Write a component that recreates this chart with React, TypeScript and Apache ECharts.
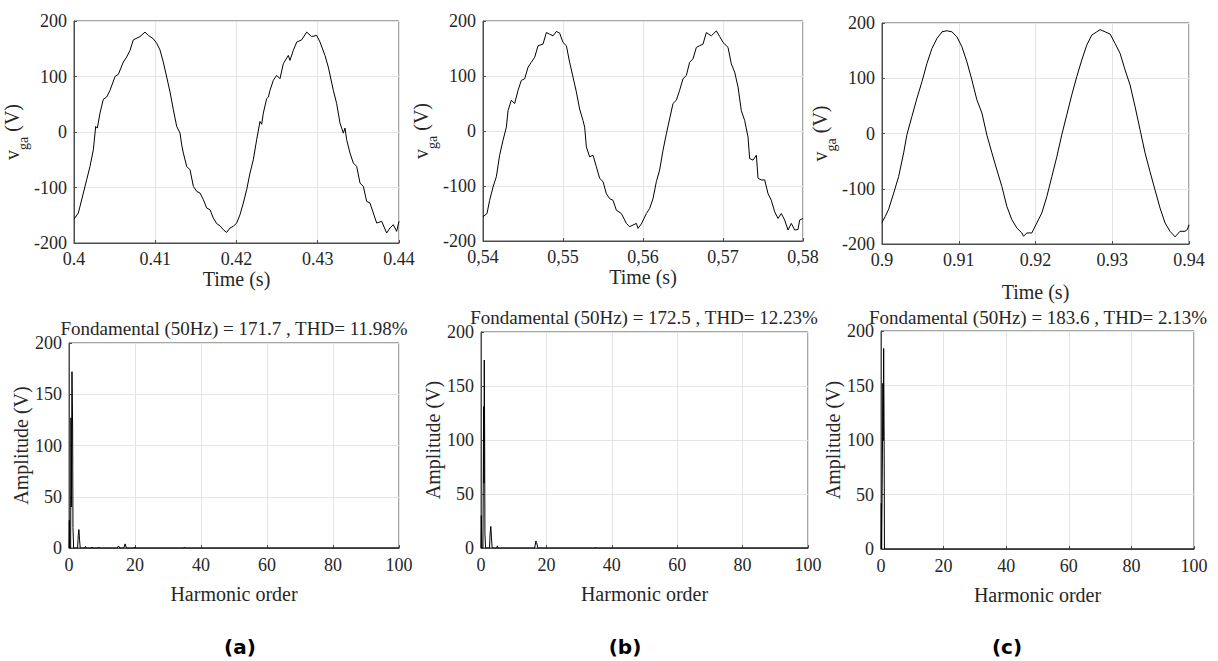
import React, { useEffect, useRef } from "react";
import * as echarts from "echarts";

// ---------- data: waveforms (time in s, voltage in V) ----------
const timeA = [0.4, 0.40053, 0.40074, 0.40115, 0.40156, 0.40197, 0.40238, 0.40267, 0.40287, 0.4032, 0.40361, 0.40402, 0.40443, 0.40505, 0.40546, 0.40607, 0.40648, 0.40689, 0.4073, 0.40812, 0.40874, 0.40915, 0.40976, 0.41017, 0.41058, 0.41099, 0.41141, 0.41182, 0.41223, 0.41264, 0.41305, 0.41325, 0.41346, 0.41387, 0.41428, 0.41469, 0.4151, 0.41551, 0.41592, 0.41633, 0.41674, 0.41715, 0.41756, 0.41797, 0.41838, 0.41879, 0.4192, 0.41961, 0.42002, 0.42043, 0.42084, 0.42125, 0.42166, 0.42207, 0.42248, 0.42289, 0.4231, 0.4233, 0.42371, 0.42392, 0.42412, 0.42453, 0.42494, 0.42535, 0.42576, 0.42638, 0.42658, 0.42699, 0.42741, 0.42802, 0.42864, 0.42925, 0.42987, 0.43028, 0.43089, 0.4313, 0.43192, 0.43233, 0.43274, 0.43315, 0.43335, 0.43356, 0.43397, 0.43438, 0.43479, 0.4352, 0.43561, 0.43602, 0.43643, 0.43684, 0.43725, 0.43787, 0.43848, 0.43889, 0.4393, 0.43971, 0.44];
const voltA = [-157, -146, -134, -110, -86, -62, -32, 10, 7, 34, 59, 63, 75, 100, 104, 126, 135, 147, 166, 172, 180, 174, 168, 160, 148, 126, 99, 72, 40, 10, -2, -23, -38, -62, -68, -98, -107, -110, -122, -137, -140, -155, -165, -169, -176, -181, -173, -170, -164, -149, -128, -104, -74, -50, -14, 19, 14, 34, 60, 63, 75, 93, 102, 96, 123, 138, 129, 147, 162, 166, 180, 172, 174, 162, 138, 117, 75, 51, 16, -2, 7, -14, -38, -56, -62, -92, -98, -125, -128, -146, -164, -161, -182, -173, -167, -179, -161];

const timeB = [0.54, 0.5405, 0.54083, 0.54125, 0.54167, 0.54208, 0.5425, 0.54292, 0.54313, 0.54354, 0.54396, 0.54438, 0.54479, 0.54521, 0.54563, 0.54604, 0.54646, 0.54688, 0.5475, 0.54792, 0.54833, 0.54875, 0.54917, 0.54958, 0.55, 0.55042, 0.55083, 0.55125, 0.55167, 0.55208, 0.5525, 0.55271, 0.55292, 0.55333, 0.55375, 0.55417, 0.55458, 0.555, 0.55542, 0.55583, 0.55625, 0.55667, 0.55729, 0.55792, 0.55833, 0.55875, 0.55917, 0.55938, 0.55979, 0.56042, 0.56083, 0.56125, 0.56167, 0.56208, 0.5625, 0.56292, 0.56333, 0.56375, 0.56417, 0.56458, 0.565, 0.56542, 0.56583, 0.56625, 0.56667, 0.56708, 0.5675, 0.56792, 0.56854, 0.56917, 0.56958, 0.57, 0.57063, 0.57104, 0.57146, 0.57188, 0.57229, 0.57271, 0.57313, 0.57333, 0.57375, 0.57417, 0.57438, 0.57479, 0.57521, 0.57563, 0.57604, 0.57646, 0.57688, 0.57729, 0.57771, 0.57813, 0.57854, 0.57896, 0.57938, 0.57958, 0.58];
const voltB = [-156, -150, -126, -102, -83, -44, -17, 7, 37, 56, 50, 74, 92, 95, 116, 125, 134, 155, 158, 179, 176, 173, 181, 178, 161, 155, 125, 98, 71, 40, 19, 7, -29, -47, -44, -65, -86, -92, -114, -123, -126, -144, -150, -168, -174, -171, -168, -177, -169, -150, -141, -123, -92, -71, -35, -5, 22, 50, 56, 74, 95, 101, 125, 131, 152, 155, 158, 179, 173, 182, 172, 161, 152, 122, 107, 80, 37, 19, -11, -50, -53, -44, -86, -89, -89, -114, -126, -147, -159, -150, -162, -180, -168, -180, -179, -162, -159];

const timeC = [0.9, 0.90043, 0.90087, 0.90152, 0.90217, 0.90282, 0.90325, 0.9039, 0.90456, 0.90521, 0.90586, 0.90651, 0.90716, 0.90781, 0.90846, 0.90911, 0.90976, 0.91041, 0.91106, 0.91171, 0.91236, 0.91302, 0.91367, 0.91432, 0.91497, 0.91562, 0.91627, 0.91692, 0.91757, 0.91822, 0.91844, 0.91887, 0.91952, 0.92017, 0.92082, 0.92148, 0.92213, 0.92278, 0.92343, 0.92408, 0.92473, 0.92538, 0.92603, 0.92668, 0.92733, 0.92798, 0.92842, 0.92907, 0.92972, 0.93037, 0.93102, 0.93167, 0.93232, 0.93297, 0.93362, 0.93427, 0.93492, 0.93557, 0.93623, 0.93688, 0.93753, 0.93818, 0.93883, 0.93948, 0.93978, 0.94];
const voltC = [-161, -150, -137, -108, -78, -35, -2, 31, 64, 94, 127, 154, 172, 184, 186, 184, 175, 157, 130, 97, 61, 37, -3, -35, -66, -96, -132, -156, -171, -180, -186, -180, -180, -162, -144, -114, -78, -42, -2, 34, 70, 103, 133, 160, 178, 184, 188, 184, 180, 163, 145, 115, 88, 49, 7, -35, -69, -102, -135, -162, -177, -187, -177, -177, -174, -165];

// ---------- data: harmonic spectra (order, amplitude V) ----------
const orderA = [0, 0.1, 0.2, 0.5, 0.6, 0.7, 0.9, 1.1, 1.2, 1.4, 2.6, 2.8, 3.0, 3.2, 3.4, 4.8, 5.0, 5.2, 6.8, 7.0, 7.2, 8.8, 9.0, 9.2, 14.6, 15.0, 15.4, 16.6, 17.0, 17.4, 19.8, 20.0, 20.2, 34.8, 35.0, 35.2, 100];
const ampA = [0, 27, 0, 0, 127, 40, 172, 118, 20, 0, 0, 12, 18, 8, 0, 0, 1.5, 0, 0, 1, 0, 0, 1, 0, 0, 2, 0, 0, 4, 0, 0, 1, 0, 0, 1, 0, 0];

const orderB = [0, 0.1, 0.2, 0.3, 0.6, 0.8, 0.9, 1.0, 1.1, 1.2, 1.4, 2.6, 2.8, 3.0, 3.2, 3.4, 4.8, 5.0, 5.2, 16.4, 16.8, 17.0, 17.4, 34.8, 35.0, 35.2, 100];
const ampB = [0, 30, 12, 0, 0, 131, 60, 174, 114, 13, 0, 0, 14, 20, 10, 0, 0, 2, 0, 0, 6.5, 5, 0, 0, 0.8, 0, 0];

const orderC = [0, 0.1, 0.2, 0.4, 0.5, 0.6, 0.7, 0.85, 1.0, 1.1, 100];
const ampC = [0, 42, 0, 0, 103, 152, 100, 184, 103, 0, 0];

// ---------- text ----------
const titles = [
  "Fondamental (50Hz) = 171.7 , THD= 11.98%",
  "Fondamental (50Hz) = 172.5 , THD= 12.23%",
  "Fondamental (50Hz) = 183.6 , THD= 2.13%",
];
const panelLabels = ["(a)", "(b)", "(c)"];
const timeRanges = [
  [0.4, 0.44],
  [0.54, 0.58],
  [0.9, 0.94],
];

const SERIF = '"Liberation Serif", "Times New Roman", serif';
const TXT = "#262626";
const AXIS = "#4d4d4d";
const GRIDC = "#e4e4e4";

export default function App() {
  const ref = useRef<HTMLDivElement>(null);

  useEffect(() => {
    if (!ref.current) return;
    const chart = echarts.init(ref.current, undefined, { renderer: "svg" });

    const grids = [
      { left: 74, top: 21, width: 325, height: 222 },
      { left: 483, top: 21, width: 320, height: 220 },
      { left: 882, top: 23, width: 307, height: 221 },
      { left: 69, top: 343, width: 330, height: 205 },
      { left: 481, top: 332, width: 327, height: 216 },
      { left: 881, top: 331, width: 313, height: 218 },
    ].map((g) => ({ ...g, show: true, borderColor: AXIS, borderWidth: 1, containLabel: false }));

    const labelStyle = {
      fontFamily: SERIF,
      fontSize: 18,
      color: TXT,
      showMinLabel: true,
      showMaxLabel: true,
    };

    const axisCommon = {
      type: "value" as const,
      axisLine: { show: true, onZero: false, lineStyle: { color: AXIS, width: 1 } },
      axisTick: { show: true, inside: true, length: 3, lineStyle: { color: AXIS } },
      splitLine: { show: true, lineStyle: { color: GRIDC, width: 1 } },
      nameTextStyle: { fontFamily: SERIF, fontSize: 20, color: TXT },
      nameLocation: "middle" as const,
    };

    const timeGaps = [17, 26, 38];
    const vgaGaps = [32, 46, 46];

    const xAxes: any[] = [];
    const yAxes: any[] = [];
    for (let i = 0; i < 3; i++) {
      const comma = i === 1;
      xAxes.push({
        ...axisCommon,
        gridIndex: i,
        min: timeRanges[i][0],
        max: timeRanges[i][1],
        interval: 0.01,
        name: "Time (s)",
        nameGap: timeGaps[i],
        axisLabel: {
          ...labelStyle,
          margin: 7,
          formatter: (v: number) => {
            const s = String(parseFloat(v.toFixed(2)));
            return comma ? s.replace(".", ",") : s;
          },
        },
      });
      yAxes.push({
        ...axisCommon,
        gridIndex: i,
        min: -200,
        max: 200,
        interval: 100,
        name: "{v|v}{s|ga}{v| (V)}",
        nameGap: vgaGaps[i],
        nameRotate: 90,
        nameTextStyle: {
          fontFamily: SERIF,
          fontSize: 20,
          color: TXT,
          rich: {
            v: { fontFamily: SERIF, fontSize: 20, color: TXT, lineHeight: 22, verticalAlign: "top" },
            s: { fontFamily: SERIF, fontSize: 14, color: TXT, lineHeight: 14, verticalAlign: "top", padding: [14, 0, 0, 0] },
          },
        },
        axisLabel: { ...labelStyle, margin: 7 },
      });
    }
    const ampGaps = [37, 38, 38];
    for (let i = 0; i < 3; i++) {
      xAxes.push({
        ...axisCommon,
        gridIndex: 3 + i,
        min: 0,
        max: 100,
        interval: 20,
        name: "Harmonic order",
        nameGap: 36,
        axisLabel: { ...labelStyle, margin: 8 },
      });
      yAxes.push({
        ...axisCommon,
        gridIndex: 3 + i,
        min: 0,
        max: 200,
        interval: 50,
        name: "Amplitude (V)",
        nameGap: ampGaps[i],
        nameRotate: 90,
        axisLabel: { ...labelStyle, margin: 7 },
      });
    }

    const waves = [
      [timeA, voltA],
      [timeB, voltB],
      [timeC, voltC],
    ];
    const spectra = [
      [orderA, ampA],
      [orderB, ampB],
      [orderC, ampC],
    ];
    const series: any[] = [];
    waves.forEach(([t, v], i) => {
      series.push({
        type: "line",
        xAxisIndex: i,
        yAxisIndex: i,
        showSymbol: false,
        symbol: "none",
        lineStyle: { color: "#000", width: 1 },
        data: t.map((x, k) => [x, v[k]]),
      });
    });
    spectra.forEach(([o, a], i) => {
      series.push({
        type: "line",
        xAxisIndex: 3 + i,
        yAxisIndex: 3 + i,
        showSymbol: false,
        symbol: "none",
        lineStyle: { color: "#000", width: 1 },
        data: o.map((x, k) => [x, a[k]]),
      });
    });

    const titleX = [234, 644, 1038];
    const titleY = [328, 317, 317];
    const labelX = [240, 625, 1007];
    const graphics: any[] = [];
    for (let i = 0; i < 3; i++) {
      graphics.push({
        type: "text",
        x: titleX[i],
        y: titleY[i],
        style: {
          text: titles[i],
          fontFamily: SERIF,
          fontSize: 19,
          fill: TXT,
          textAlign: "center",
          textVerticalAlign: "middle",
        },
      });
      graphics.push({
        type: "text",
        x: labelX[i],
        y: 647,
        style: {
          text: panelLabels[i],
          fontFamily: '"DejaVu Sans", Verdana, sans-serif',
          fontWeight: "bold",
          fontSize: 20,
          fill: "#000",
          textAlign: "center",
          textVerticalAlign: "middle",
        },
      });
    }

    chart.setOption({
      animation: false,
      backgroundColor: "#ffffff",
      textStyle: { fontFamily: SERIF },
      grid: grids,
      xAxis: xAxes,
      yAxis: yAxes,
      series,
      graphic: graphics,
    });

    return () => chart.dispose();
  }, []);

  return (
    <div
      ref={ref}
      style={{ position: "absolute", left: 0, top: 0, width: 1218, height: 661 }}
    />
  );
}
